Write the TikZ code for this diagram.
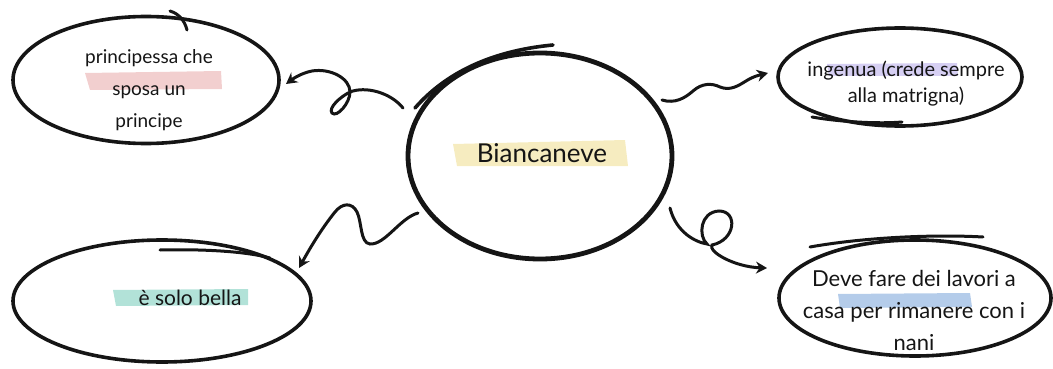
\documentclass[tikz,border=0pt]{standalone}
\usepackage{fontspec}
\setmainfont{Lato}
\usetikzlibrary{shapes.geometric,arrows.meta}
\definecolor{hpink}{HTML}{F2CFCF}
\definecolor{hyellow}{HTML}{F6ECC0}
\definecolor{hpurple}{HTML}{D6CFF3}
\definecolor{hteal}{HTML}{B2E2D8}
\definecolor{hblue}{HTML}{B4CCEA}
\definecolor{ink}{HTML}{151515}
\tikzset{
  bubble/.style={ellipse, draw=ink, line width=3.6pt, inner sep=0pt},
  centerbubble/.style={ellipse, draw=ink, line width=4.8pt, inner sep=0pt},
  extra/.style={draw=ink, line width=3pt, line cap=round},
  label/.style={text=ink, align=center, inner sep=0pt},
  curvy/.style={draw=ink, line width=3pt, line cap=round, -{Stealth[length=11pt,width=12pt]}},
}
\begin{document}
\begin{tikzpicture}[x=1pt,y=-1pt]
\useasboundingbox (0,0) rectangle (1053,369);
% highlights
\fill[hpink] (85,73) -- (221,71) -- (222,89) -- (90,90) -- cycle;
\fill[hyellow] (453,144) -- (625,140) -- (628,166) -- (457,166) -- cycle;
\fill[hpurple] (827,64) -- (957,63) -- (958,76) -- (829,76) -- cycle;
\fill[hteal] (113,290) -- (248,289) -- (248,305) -- (116,306) -- cycle;
\fill[hblue] (838,294) -- (970,293) -- (972,307) -- (840,308) -- cycle;
% bubbles
\node[bubble, minimum width=266pt, minimum height=127pt] (tl) at (146,80) {};
\node[centerbubble, minimum width=264pt, minimum height=206pt] (bc) at (540,156) {};
\node[bubble, minimum width=244pt, minimum height=98pt] (tr) at (900,77) {};
\node[bubble, minimum width=298pt, minimum height=122pt] (bl) at (162,301) {};
\node[bubble, minimum width=272pt, minimum height=116pt] (br) at (915,298) {};
% extra sketch strokes
\draw[extra] (170,11) .. controls (180,14) and (185,22) .. (187,30);
\draw[extra, line width=3.6pt] (415,108) .. controls (450,68) and (500,50) .. (553,45);
\draw[extra] (812,117) .. controls (840,122) and (880,124) .. (902,122);
\draw[extra] (160,250) .. controls (200,249) and (245,251) .. (270,258);
\draw[extra] (810,247) .. controls (860,238) and (930,234) .. (983,237);
% texts
\node[label, font=\fontsize{19}{32}\selectfont] (tlt) at (149,90) {principessa che\\sposa un\\principe};
\node[label, font=\fontsize{26}{30}\selectfont] (bct) at (542,153) {Biancaneve};
\node[label, font=\fontsize{20}{26}\selectfont] (trt) at (906,84) {ingenua (crede sempre\\alla matrigna)};
\node[label, font=\fontsize{21}{26}\selectfont] (blt) at (190,298) {è solo bella};
\node[label, font=\fontsize{22}{32}\selectfont] (brt) at (914,310) {Deve fare dei lavori a\\casa per rimanere con i\\nani};
% connector endpoints
\coordinate (s1) at (403,108); \coordinate (e1) at (286,84);
\coordinate (s2) at (662,100); \coordinate (e2) at (768,73);
\coordinate (s3) at (418,213); \coordinate (e3) at (299,268);
\coordinate (s4) at (670,208); \coordinate (e4) at (767,268);
% connectors
\draw[curvy] (s1) .. controls (390,92) and (365,86) .. (350,92)
  .. controls (340,97) and (328,108) .. (332,113)
  .. controls (337,118) and (350,103) .. (350,92)
  .. controls (350,78) and (330,68) .. (312,71)
  .. controls (302,73) and (294,78) .. (e1);
\draw[curvy] (s2) .. controls (675,104) and (685,98) .. (693,91)
  .. controls (702,83) and (712,83) .. (720,87)
  .. controls (730,91) and (738,86) .. (746,81)
  .. controls (754,76) and (760,75) .. (e2);
\draw[curvy] (s3) .. controls (400,218) and (385,245) .. (370,244)
  .. controls (360,243) and (362,222) .. (357,212)
  .. controls (352,202) and (342,203) .. (335,212)
  .. controls (322,228) and (310,248) .. (e3);
\draw[curvy] (s4) .. controls (676,232) and (695,242) .. (707,244)
  .. controls (698,236) and (700,212) .. (719,211)
  .. controls (738,211) and (736,240) .. (712,245)
  .. controls (708,252) and (735,267) .. (e4);
\end{tikzpicture}
\end{document}
